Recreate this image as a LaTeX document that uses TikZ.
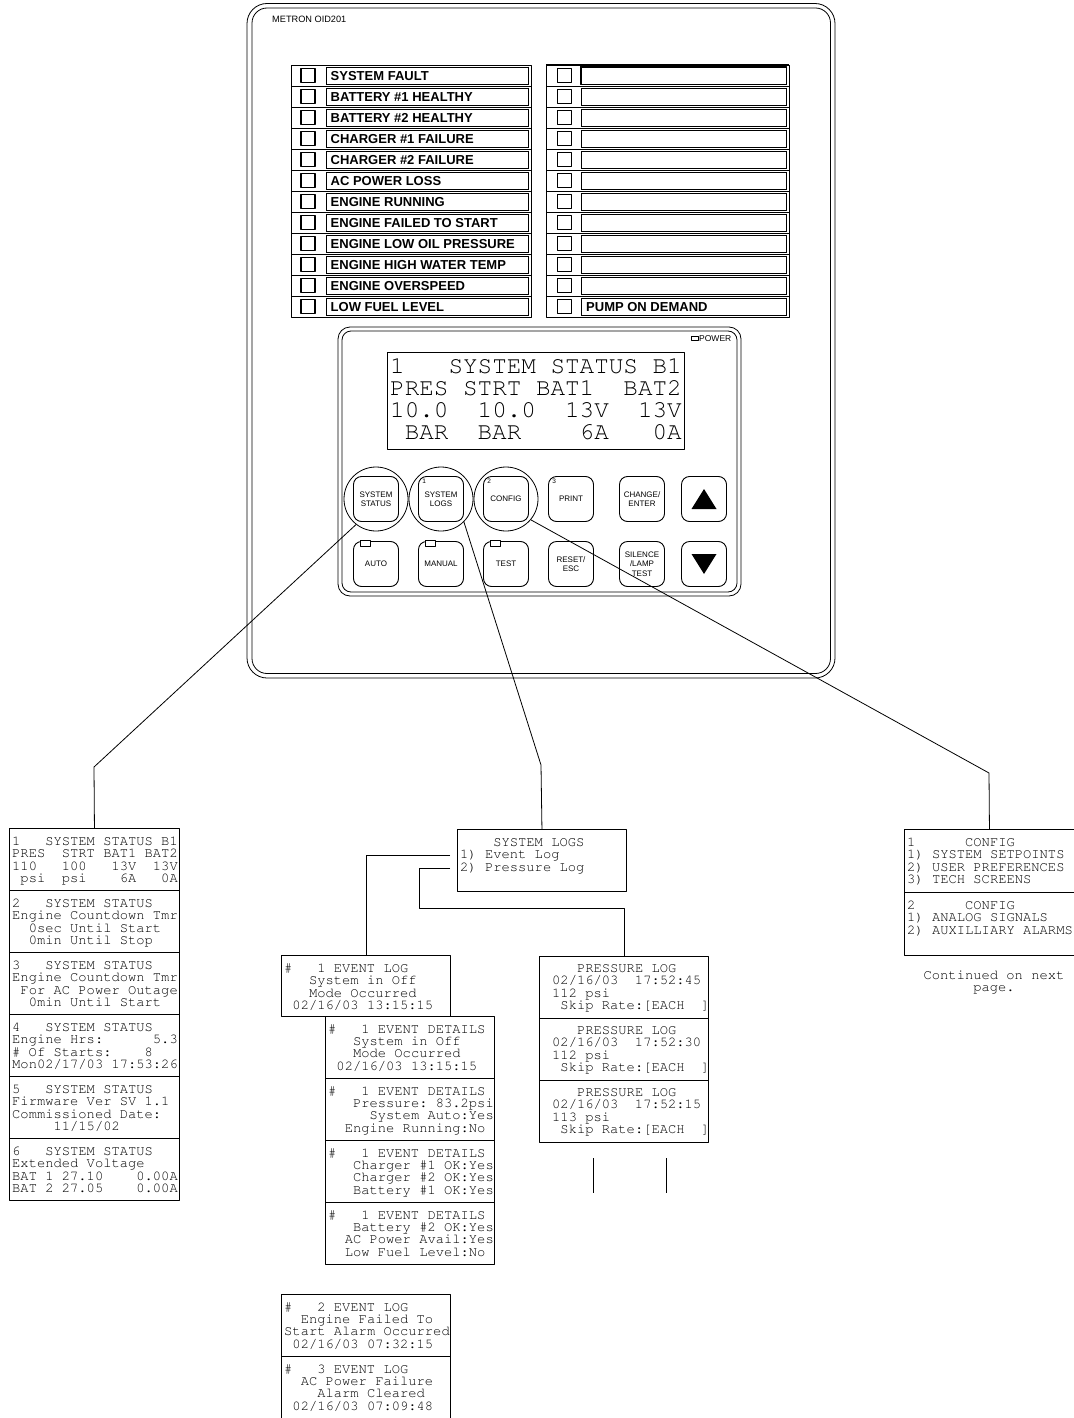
\documentclass[tikz,border=0pt]{standalone}
\usepackage[T1]{fontenc}
\usepackage{fontspec}
\setmainfont{Liberation Sans}
\usetikzlibrary{calc}
\newcommand\scrfont{\fontencoding{T1}\fontfamily{pcr}\fontseries{m}\fontshape{n}\fontsize{13.8}{12.4}\selectfont}
\newcommand\lcdfont{\fontencoding{T1}\fontfamily{pcr}\fontseries{m}\fontshape{n}\fontsize{24.3}{22}\selectfont}
\newcommand\scrlines[4]{\foreach \sline [count=\ii from 0] in {#4}{\node[scr] (#1-\ii) at ({#2},{#3+12.4*\ii}) {\sline};}}
\begin{document}
\begin{tikzpicture}[x=1pt,y=-1pt,line join=round,
  pline/.style={line width=0.8pt},
  conn/.style={line width=0.8pt},
  scr/.style={font=\scrfont, inner sep=0pt, anchor=base west},
  scrbox/.style={draw, line width=0.9pt, minimum width=170pt, minimum height=62pt, anchor=north west, inner sep=0pt},
  btn/.style={draw, line width=0.9pt, rounded corners=8pt, minimum width=45pt, minimum height=45pt, inner sep=0pt, align=center, font=\fontsize{8}{9.3}\selectfont},
  ring/.style={draw, circle, line width=0.8pt, minimum size=64pt, inner sep=0pt},
  chk/.style={draw, line width=1.2pt, minimum width=14pt, minimum height=14pt, inner sep=0pt},
  lab/.style={draw, line width=0.7pt, minimum height=17pt, inner sep=0pt},
  labshade/.style={line width=1.6pt},
  lbl/.style={inner sep=0pt, anchor=base west, font=\bfseries\fontsize{13}{15}\selectfont},
  num/.style={inner sep=0pt, anchor=north west, font=\fontsize{6.5}{7}\selectfont},
  led/.style={draw, fill=white, line width=0.7pt},
]
\useasboundingbox (0,0) rectangle (1073,1418);

% ---------- front panel ----------
\draw[pline, rounded corners=20pt] (247,3.5) rectangle (835,678);
\draw[pline, rounded corners=15pt] (252,8) rectangle (830.5,673.5);
\node[anchor=west, inner sep=0pt, font=\fontsize{9.2}{11}\selectfont] (brand) at (272,19) {METRON OID201};

% indicator panels
\draw[pline] (291,65) rectangle (531,317);
\draw[pline] (546,65) rectangle (789,317);
\foreach \t [count=\i from 0] in {SYSTEM FAULT,BATTERY \#1 HEALTHY,BATTERY \#2 HEALTHY,CHARGER \#1 FAILURE,CHARGER \#2 FAILURE,AC POWER LOSS,ENGINE RUNNING,ENGINE FAILED TO START,ENGINE LOW OIL PRESSURE,ENGINE HIGH WATER TEMP,ENGINE OVERSPEED,LOW FUEL LEVEL}{
  \pgfmathsetmacro\ty{65+21*\i}
  \ifnum\i>0
    \draw[pline] (291,\ty) -- (531,\ty);
    \draw[pline] (546,\ty) -- (789,\ty);
  \fi
  \node[chk] (lc\i) at (308,{\ty+10.5}) {};
  \node[lab, minimum width=202pt] (lb\i) at (427,{\ty+10.5}) {};
  \draw[labshade] (lb\i.north east) -- (lb\i.south east) -- (lb\i.south west);
  \node[lbl] (lt\i) at (330.5,{\ty+15.2}) {\t};
  \node[chk] (rc\i) at (564.5,{\ty+10.5}) {};
  \node[lab, minimum width=205pt] (rb\i) at (683.5,{\ty+10.5}) {};
  \draw[labshade] (rb\i.north east) -- (rb\i.south east) -- (rb\i.south west);
}
\node[lbl] (rt11) at (586,{65+21*11+15.2}) {PUMP ON DEMAND};
\draw[line width=1.5pt] (rb0.south west) rectangle (rb0.north east);
\draw[line width=1.5pt] (546,65) -- (789,65);

% LCD bezel
\draw[pline, rounded corners=12pt] (338,327) rectangle (741,596);
\draw[pline, rounded corners=9pt] (342,331) rectangle (737,592);
\node[draw, line width=0.9pt, minimum width=297pt, minimum height=97pt, inner sep=0pt] (lcd) at (535.5,400.5) {};
\node[font=\lcdfont, inner sep=0pt, anchor=base west] (lcd1) at (390,373) {1~~~SYSTEM~STATUS~B1};
\node[font=\lcdfont, inner sep=0pt, anchor=base west] (lcd2) at (390,395) {PRES~STRT~BAT1~~BAT2};
\node[font=\lcdfont, inner sep=0pt, anchor=base west] (lcd3) at (390,417) {10.0~~10.0~~13V~~13V};
\node[font=\lcdfont, inner sep=0pt, anchor=base west] (lcd4) at (390,439) {~BAR~~BAR~~~~6A~~~0A};
\node[draw, line width=0.6pt, minimum width=7pt, minimum height=4pt, inner sep=0pt] (pled) at (694.5,338) {};
\node[inner sep=0pt, anchor=west, font=\fontsize{8.5}{9}\selectfont] (pwr) at (699,338.5) {POWER};

% buttons
\node[btn] (bSS) at (376,499) {SYSTEM\\STATUS};
\node[btn] (bSL) at (441,499) {SYSTEM\\LOGS};
\node[btn] (bCF) at (506,499) {CONFIG};
\node[btn] (bPR) at (571,499) {PRINT};
\node[btn] (bCE) at (642,499) {CHANGE/\\ENTER};
\node[btn] (bUP) at (704,499) {};
\node[btn] (bAU) at (376,564) {AUTO};
\node[btn] (bMA) at (441,564) {MANUAL};
\node[btn] (bTE) at (506,564) {TEST};
\node[btn] (bRE) at (571,564) {RESET/\\ESC};
\node[btn] (bSI) at (642,564) {SILENCE\\/LAMP\\TEST};
\node[btn] (bDN) at (704,564) {};
\node[num] (n1) at ($(bSL.north west)+(4,3)$) {1};
\node[num] (n2) at ($(bCF.north west)+(4,3)$) {2};
\node[num] (n3) at ($(bPR.north west)+(4,3)$) {3};
\draw[led] ($(bAU.north west)+(7,-1)$) rectangle ++(10,6);
\draw[led] ($(bMA.north west)+(7,-1)$) rectangle ++(10,6);
\draw[led] ($(bTE.north west)+(7,-1)$) rectangle ++(10,6);
\fill ($(bUP.center)+(0,-10)$) -- ($(bUP.center)+(12.5,10)$) -- ($(bUP.center)+(-12.5,10)$) -- cycle;
\fill ($(bDN.center)+(0,10)$) -- ($(bDN.center)+(12.5,-10)$) -- ($(bDN.center)+(-12.5,-10)$) -- cycle;
\node[ring] (rSS) at (bSS) {};
\node[ring] (rSL) at (bSL) {};
\node[ring] (rCF) at (bCF) {};

% ---------- SYSTEM STATUS screens ----------
\node[scrbox] (st1) at (9,828) {};
\scrlines{st1t}{12}{845.5}{1~~~SYSTEM~STATUS~B1,PRES~~STRT~BAT1~BAT2,110~~~100~~~13V~~13V,~psi~~psi~~~~6A~~~0A}
\node[scrbox] (st2) at (9,890) {};
\scrlines{st2t}{12}{907.5}{2~~~SYSTEM~STATUS,Engine~Countdown~Tmr,~~0sec~Until~Start,~~0min~Until~Stop}
\node[scrbox] (st3) at (9,952) {};
\scrlines{st3t}{12}{969.5}{3~~~SYSTEM~STATUS,Engine~Countdown~Tmr,~For~AC~Power~Outage,~~0min~Until~Start}
\node[scrbox] (st4) at (9,1014) {};
\scrlines{st4t}{12}{1031.5}{4~~~SYSTEM~STATUS,Engine~Hrs:~~~~~~5.3,\#~Of~Starts:~~~~8,Mon02/17/03~17:53:26}
\node[scrbox] (st5) at (9,1076) {};
\scrlines{st5t}{12}{1093.5}{5~~~SYSTEM~STATUS,Firmware~Ver~SV~1.1,Commissioned~Date:,~~~~~11/15/02}
\node[scrbox] (st6) at (9,1138) {};
\scrlines{st6t}{12}{1155.5}{6~~~SYSTEM~STATUS,Extended~Voltage,BAT~1~27.10~~~~0.00A,BAT~2~27.05~~~~0.00A}

% ---------- SYSTEM LOGS ----------
\node[scrbox, minimum width=169pt] (slogs) at (457,829) {};
\scrlines{slogst}{460}{846.5}{~~~~SYSTEM~LOGS,1)~Event~Log,2)~Pressure~Log}

\node[scrbox, minimum width=169pt, minimum height=61pt] (elog1) at (281,955) {};
\scrlines{elog1t}{284}{972.5}{\#~~~1~EVENT~LOG,~~~System~in~Off,~~~Mode~Occurred,~02/16/03~13:15:15}

\node[scrbox, minimum width=169pt] (det1) at (325,1016) {};
\scrlines{det1t}{328}{1033}{\#~~~1~EVENT~DETAILS,~~~System~in~Off,~~~Mode~Occurred,~02/16/03~13:15:15}
\node[scrbox, minimum width=169pt] (det2) at (325,1078) {};
\scrlines{det2t}{328}{1095}{\#~~~1~EVENT~DETAILS,~~~Pressure:~83.2psi,~~~~~System~Auto:Yes,~~Engine~Running:No}
\node[scrbox, minimum width=169pt] (det3) at (325,1140) {};
\scrlines{det3t}{328}{1157}{\#~~~1~EVENT~DETAILS,~~~Charger~\#1~OK:Yes,~~~Charger~\#2~OK:Yes,~~~Battery~\#1~OK:Yes}
\node[scrbox, minimum width=169pt] (det4) at (325,1202) {};
\scrlines{det4t}{328}{1219}{\#~~~1~EVENT~DETAILS,~~~Battery~\#2~OK:Yes,~~AC~Power~Avail:Yes,~~Low~Fuel~Level:No}

\node[scrbox, minimum width=169pt] (elog2) at (281,1294) {};
\scrlines{elog2t}{284}{1311}{\#~~~2~EVENT~LOG,~~Engine~Failed~To,Start~Alarm~Occurred,~02/16/03~07:32:15}
\node[scrbox, minimum width=169pt] (elog3) at (281,1356) {};
\scrlines{elog3t}{284}{1373}{\#~~~3~EVENT~LOG,~~AC~Power~Failure,~~~~Alarm~Cleared,~02/16/03~07:09:48}

\node[scrbox, minimum width=169pt] (plog1) at (539,955.5) {};
\scrlines{plog1t}{552}{972.5}{~~~PRESSURE~LOG,02/16/03~~17:52:45,112~psi,~Skip~Rate:[EACH~~]}
\node[scrbox, minimum width=169pt] (plog2) at (539,1017.5) {};
\scrlines{plog2t}{552}{1034.5}{~~~PRESSURE~LOG,02/16/03~~17:52:30,112~psi,~Skip~Rate:[EACH~~]}
\node[scrbox, minimum width=169pt] (plog3) at (539,1079.5) {};
\scrlines{plog3t}{552}{1096.5}{~~~PRESSURE~LOG,02/16/03~~17:52:15,113~psi,~Skip~Rate:[EACH~~]}

% ---------- CONFIG ----------
\node[scrbox, minimum height=63pt] (cfg1) at (904,829) {};
\scrlines{cfg1t}{907}{846.5}{1~~~~~~CONFIG,1)~SYSTEM~SETPOINTS,2)~USER~PREFERENCES,3)~TECH~SCREENS}
\node[scrbox, minimum height=63pt] (cfg2) at (904,892) {};
\scrlines{cfg2t}{907}{909.5}{2~~~~~~CONFIG,1)~ANALOG~SIGNALS,2)~AUXILLIARY~ALARMS}
\node[scr, anchor=base] (cont1) at (994,979.5) {Continued~on~next};
\node[scr, anchor=base] (cont2) at (994,991.9) {page.};

% ---------- connectors ----------
\coordinate (k1) at (94,767);
\draw[conn] (rSS.-128) -- (k1) -- (st1.north);
\coordinate (k2) at (541,765);
\draw[conn] (rSL.-45) -- (k2) -- (slogs.north);
\coordinate (k3) at (989,773);
\draw[conn] (rCF.-40) -- (k3) -- (cfg1.north);
\coordinate (e1s) at (450,855);
\draw[conn] (e1s) -- (e1s -| elog1.north) -- (elog1.north);
\coordinate (p1s) at (450,868);
\coordinate (p1b) at (419,908);
\draw[conn] (p1s) -- (p1s -| p1b) -- (p1b) -- (p1b -| plog1.north) -- (plog1.north);
\coordinate (va1) at (593,1158);
\coordinate (va2) at (593,1193);
\coordinate (vb1) at (666,1158);
\coordinate (vb2) at (666,1193);
\draw[conn] (va1) -- (va2);
\draw[conn] (vb1) -- (vb2);
\end{tikzpicture}
\end{document}
